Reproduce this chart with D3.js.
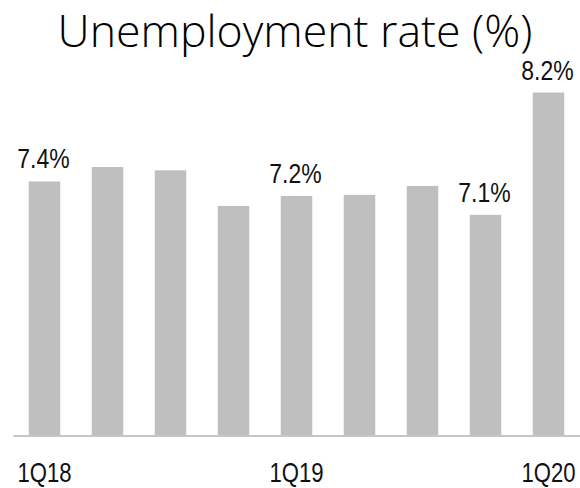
<!DOCTYPE html>
<html>
<head>
<meta charset="utf-8">
<script src="https://cdn.jsdelivr.net/npm/d3@7"></script>
<style>
  body { margin: 0; background: #fff; }
  svg { display: block; }
</style>
</head>
<body>
<div id="chart"></div>
<script>
// quarters shown as bars
var quarters = ["1Q18", "2Q18", "3Q18", "4Q18", "1Q19", "2Q19", "3Q19", "4Q19", "1Q20"];
// unemployment rate, %
var rates = [7.40, 7.53, 7.50, 7.18, 7.27, 7.28, 7.36, 7.10, 8.20];
// labels printed above some bars ("" = none)
var barLabels = ["7.4%", "", "", "", "7.2%", "", "", "7.1%", "8.2%"];
// only these quarters get an axis label
var tickQuarters = ["1Q18", "1Q19", "1Q20"];

var width = 580, height = 488;
var baseY = 435;
var narrow = 0.82;   // no narrow font installed, so squeeze Liberation Sans instead

var svg = d3.select("#chart").append("svg")
            .attr("width", width)
            .attr("height", height);

//x scale: one band per quarter
var x = d3.scaleBand()
          .domain(quarters)
          .range([13, 580])
          .paddingInner(0.5)
          .paddingOuter(0.25);

//y scale does not start at zero in the original
var y = d3.scaleLinear()
          .domain([5.12, 8.3])
          .range([baseY, 81.4]);

var data = quarters.map(function(q, i) {
    return {q: q, v: rates[i], label: barLabels[i]};
});

//Bars
svg.append("g")
   .selectAll("rect")
   .data(data)
   .enter()
   .append("rect")
   .attr("x", function(d) { return x(d.q); })
   .attr("y", function(d) { return y(d.v); })
   .attr("width", x.bandwidth())
   .attr("height", function(d) { return baseY - y(d.v); })
   .attr("fill", "#bfbfbf");

//Value labels
svg.append("g")
   .selectAll("text")
   .data(data.filter(function(d) { return d.label !== ""; }))
   .enter()
   .append("text")
   .attr("transform", function(d) {
       var cx = x(d.q) + x.bandwidth() / 2 - 1;
       var cy = y(d.v) - 13;
       return "translate(" + cx + "," + cy + ")scale(" + narrow + ",1)";
   })
   .attr("text-anchor", "middle")
   .attr("font-family", "'Liberation Sans', Arial, sans-serif")
   .attr("font-size", 28)
   .attr("fill", "#111")
   .text(function(d) { return d.label; });

//Axis
var xAxis = d3.axisBottom(x)
              .tickValues(tickQuarters)
              .tickSize(0)
              .tickPadding(27);

var axisG = svg.append("g")
               .attr("transform", "translate(0," + (baseY + 0.5) + ")")
               .call(xAxis);

axisG.select(".domain")
     .attr("stroke", "#8c8c8c")
     .attr("stroke-width", 1);

axisG.selectAll("text")
     .attr("transform", "scale(" + narrow + ",1)")
     .attr("font-family", "'Liberation Sans', Arial, sans-serif")
     .attr("font-size", 27)
     .attr("fill", "#111");

//Title, sized so it spans the same width as the original
var title = svg.append("text")
               .attr("x", 295)
               .attr("y", 46.7)
               .attr("text-anchor", "middle")
               .attr("font-family", "'Open Sans', 'Noto Sans', sans-serif")
               .attr("font-weight", 300)
               .attr("font-size", 48)
               .attr("fill", "#000")
               .text("Unemployment rate (%)");

var tw = title.node().getComputedTextLength();
title.attr("font-size", 48 * 475 / tw);
</script>
</body>
</html>
